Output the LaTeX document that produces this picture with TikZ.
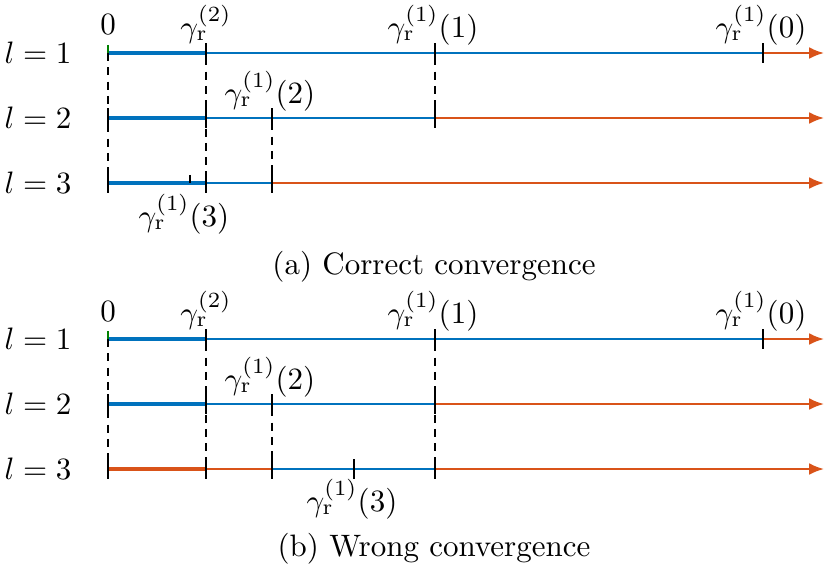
\documentclass[tikz,border=0pt]{standalone}
\usepackage{amsmath,amssymb}
\usepackage{tikz}
\usetikzlibrary{arrows.meta}
\usepackage{xcolor}
\definecolor{mblue}{RGB}{0,114,189}
\definecolor{morange}{RGB}{217,83,25}
\definecolor{mgreen}{RGB}{0,128,0}
\tikzset{
  convseg/.style={line width=0.65pt,draw=mblue},
  convbold/.style={line width=1.6pt,draw=mblue},
  divseg/.style={line width=0.65pt,draw=morange},
  divbold/.style={line width=1.6pt,draw=morange},
  divarrow/.style={divseg,-{Latex[length=4.8pt,width=3.8pt]}},
  guide/.style={line width=0.35pt,draw=black,dash pattern=on 2.6pt off 2pt},
  tickmark/.style={line width=0.4pt,draw=black},
  zerotick/.style={line width=0.4pt,draw=mgreen},
  ptlabel/.style={inner sep=1pt},
  lvllabel/.style={inner sep=1pt},
  caplabel/.style={inner sep=1pt}
}
\newcommand{\gr}[1]{\gamma_{\mathrm{r}}^{(#1)}}

\begin{document}
\begin{tikzpicture}[x=0.3226pt,y=-0.3226pt]
  \useasboundingbox (0,0) rectangle (824,571);
  % break points on every row
  \foreach \r/\y in {a1/53,a2/118,a3/183,b1/339,b2/404,b3/469}{
    \coordinate (\r-z) at (108,\y);
    \coordinate (\r-g) at (206,\y);
    \coordinate (\r-p) at (272,\y);
    \coordinate (\r-q) at (435,\y);
    \coordinate (\r-s) at (763,\y);
    \coordinate (\r-e) at (824,\y);
  }
  \coordinate (a3-t) at (190,183);
  \coordinate (b3-t) at (354,469);

  % (a) correct convergence
  \node[lvllabel] (a-l1) at (38,53) {$l=1$};
  \node[lvllabel] (a-l2) at (38,118) {$l=2$};
  \node[lvllabel] (a-l3) at (38,183) {$l=3$};
  \draw[convbold] (a1-z) -- (a1-g);
  \draw[convseg] (a1-g) -- (a1-s);
  \draw[divarrow] (a1-s) -- (a1-e);
  \draw[convbold] (a2-z) -- (a2-g);
  \draw[convseg] (a2-g) -- (a2-q);
  \draw[divarrow] (a2-q) -- (a2-e);
  \draw[convbold] (a3-z) -- (a3-g);
  \draw[convseg] (a3-g) -- (a3-p);
  \draw[divarrow] (a3-p) -- (a3-e);
  \draw[guide] (a1-z) -- ([yshift=-3.2pt]a3-z);
  \draw[guide] ([yshift=3.2pt]a1-g) -- ([yshift=-3.2pt]a3-g);
  \draw[guide] ([yshift=3.2pt]a2-p) -- ([yshift=-3.2pt]a3-p);
  \draw[guide] ([yshift=3.2pt]a1-q) -- ([yshift=-3.2pt]a2-q);
  \draw[zerotick] ([yshift=2.6pt]a1-z) -- (a1-z);
  \foreach \c in {a2-z,a3-z,a1-g,a2-g,a3-g,a2-p,a3-p,a1-q,a2-q,a1-s}
    \draw[tickmark] ([yshift=3.2pt]\c) -- ([yshift=-3.2pt]\c);
  \draw[tickmark] ([yshift=2.6pt]a3-t) -- (a3-t);
  \node[ptlabel] (a-zero) at (108,25) {$0$};
  \node[ptlabel] (a-g2) at (206,24) {$\gr{2}$};
  \node[ptlabel] (a-g11) at (433,25) {$\gr{1}(1)$};
  \node[ptlabel] (a-g10) at (761,25) {$\gr{1}(0)$};
  \node[ptlabel] (a-g12) at (270,91) {$\gr{1}(2)$};
  \node[ptlabel] (a-g13) at (184,214) {$\gr{1}(3)$};
  \node[caplabel] (a-cap) at (434,267) {(a) Correct convergence};

  % (b) wrong convergence
  \node[lvllabel] (b-l1) at (38,339) {$l=1$};
  \node[lvllabel] (b-l2) at (38,404) {$l=2$};
  \node[lvllabel] (b-l3) at (38,469) {$l=3$};
  \draw[convbold] (b1-z) -- (b1-g);
  \draw[convseg] (b1-g) -- (b1-s);
  \draw[divarrow] (b1-s) -- (b1-e);
  \draw[convbold] (b2-z) -- (b2-g);
  \draw[convseg] (b2-g) -- (b2-q);
  \draw[divarrow] (b2-q) -- (b2-e);
  \draw[divbold] (b3-z) -- (b3-g);
  \draw[divseg] (b3-g) -- (b3-p);
  \draw[convseg] (b3-p) -- (b3-q);
  \draw[divarrow] (b3-q) -- (b3-e);
  \draw[guide] (b1-z) -- ([yshift=-3.2pt]b3-z);
  \draw[guide] ([yshift=3.2pt]b1-g) -- ([yshift=-3.2pt]b3-g);
  \draw[guide] ([yshift=3.2pt]b2-p) -- ([yshift=-3.2pt]b3-p);
  \draw[guide] ([yshift=3.2pt]b1-q) -- ([yshift=-3.2pt]b3-q);
  \draw[zerotick] ([yshift=2.6pt]b1-z) -- (b1-z);
  \foreach \c in {b2-z,b3-z,b1-g,b2-g,b3-g,b2-p,b3-p,b1-q,b2-q,b3-q,b1-s,b3-t}
    \draw[tickmark] ([yshift=3.2pt]\c) -- ([yshift=-3.2pt]\c);
  \node[ptlabel] (b-zero) at (108,311) {$0$};
  \node[ptlabel] (b-g2) at (206,310) {$\gr{2}$};
  \node[ptlabel] (b-g11) at (433,311) {$\gr{1}(1)$};
  \node[ptlabel] (b-g10) at (761,311) {$\gr{1}(0)$};
  \node[ptlabel] (b-g12) at (270,377) {$\gr{1}(2)$};
  \node[ptlabel] (b-g13) at (352,499) {$\gr{1}(3)$};
  \node[caplabel] (b-cap) at (434,549) {(b) Wrong convergence};
\end{tikzpicture}
\end{document}
